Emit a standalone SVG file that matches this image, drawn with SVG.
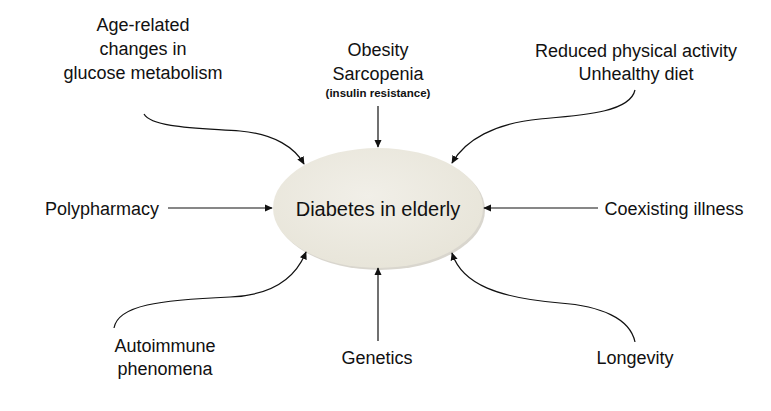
<svg xmlns="http://www.w3.org/2000/svg" width="771" height="411" viewBox="0 0 771 411">
<style>
text{font-family:"Liberation Sans",Arial,sans-serif;fill:#111;text-anchor:middle}
.t{font-size:18px}
.m{font-size:20px}
.s{font-size:11.5px;font-weight:bold}
.c{fill:none;stroke:#111;stroke-width:1.2;marker-end:url(#ah)}
</style>
<defs>
<marker id="ah" viewBox="0 0 10 10" refX="9" refY="5" markerWidth="8" markerHeight="8" markerUnits="userSpaceOnUse" orient="auto">
<path d="M0,0.5 L10,5 L0,9.5 Z" fill="#111"/>
</marker>
<radialGradient id="eg" cx="0.45" cy="0.4" r="0.65">
<stop offset="0" stop-color="#F1EFE8"/>
<stop offset="1" stop-color="#E7E4D8"/>
</radialGradient>
</defs>
<rect width="771" height="411" fill="#fff"/>
<g id="center">
<ellipse cx="380" cy="210" rx="105" ry="60" fill="#CFCCC2" opacity="0.8"/>
<ellipse cx="378" cy="208" rx="105" ry="60" fill="url(#eg)"/>
<text class="m" x="378" y="216">Diabetes in elderly</text>
</g>
<g id="n-age"><text class="t" x="143" y="31">Age-related</text><text class="t" x="143" y="55">changes in</text><text class="t" x="143" y="79">glucose metabolism</text></g>
<g id="n-obesity"><text class="t" x="378" y="56">Obesity</text><text class="t" x="378" y="80">Sarcopenia</text><text class="s" x="378" y="97">(insulin resistance)</text></g>
<g id="n-activity"><text class="t" x="636" y="57">Reduced physical activity</text><text class="t" x="636" y="80">Unhealthy diet</text></g>
<g id="n-poly"><text class="t" x="102" y="215">Polypharmacy</text></g>
<g id="n-coexist"><text class="t" x="674" y="215">Coexisting illness</text></g>
<g id="n-auto"><text class="t" x="165" y="352">Autoimmune</text><text class="t" x="165" y="375">phenomena</text></g>
<g id="n-genetics"><text class="t" x="377" y="364">Genetics</text></g>
<g id="n-longevity"><text class="t" x="635" y="364">Longevity</text></g>
<g id="connectors">
<path class="c" d="M378,106 L378,147"/>
<path class="c" d="M144,114 C152,128 200,128 240,131 C275,134 295,148 304,164"/>
<path class="c" d="M635,90 C630,112 585,115 540,119 C495,123 465,140 452,163"/>
<path class="c" d="M168,208 L272,208"/>
<path class="c" d="M598,208 L484,208"/>
<path class="c" d="M378,341 L378,268"/>
<path class="c" d="M114,328 C118,305 160,300 230,297 C280,295 298,272 306,252"/>
<path class="c" d="M635,342 C630,318 600,306 560,303 C500,298 462,285 452,253"/>
</g>
</svg>
